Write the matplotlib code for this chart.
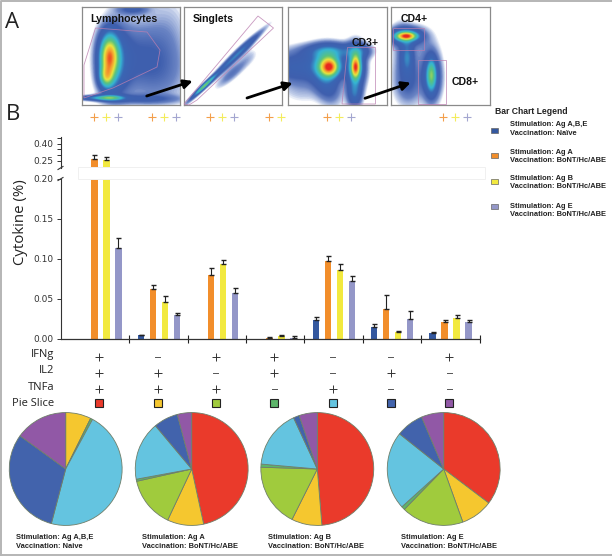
#!/usr/bin/env python3

import numpy as np
import matplotlib
matplotlib.use('Agg')
import matplotlib.pyplot as plt
from matplotlib.colors import LinearSegmentedColormap
from matplotlib.patches import Polygon, Rectangle

W, H = 612, 556

# bar chart values, one list per stimulation
naive_vals = [0.0, 0.004, 0.0, 0.0, 0.023, 0.0142, 0.0063]
naive_errs = [0.0, 0.001, 0.0, 0.0, 0.0034, 0.0034, 0.0021]
ag_a_vals = [0.265, 0.062, 0.0795, 0.001, 0.097, 0.0368, 0.0205]
ag_a_errs = [0.033, 0.005, 0.0085, 0.0005, 0.0063, 0.0172, 0.0029]
ag_b_vals = [0.256, 0.0456, 0.0933, 0.003, 0.0858, 0.0084, 0.026]
ag_b_errs = [0.029, 0.0071, 0.0047, 0.002, 0.0075, 0.0016, 0.0029]
ag_e_vals = [0.1138, 0.0293, 0.057, 0.001, 0.072, 0.0243, 0.0205]
ag_e_errs = [0.0122, 0.0033, 0.0058, 0.002, 0.0058, 0.0096, 0.0029]

ifng = ['+', '-', '+', '+', '-', '-', '+']
il2 = ['+', '+', '-', '+', '-', '+', '-']
tnfa = ['+', '+', '+', '-', '+', '-', '-']
row_names = ['IFNg', 'IL2', 'TNFa']

# which colored pluses sit over each group in the top strip
top_plus = [3, 3, 3, 2, 3, 0, 3]

# pie slices in percent: red, yellow, green, dark green, cyan, navy, purple
pie_naive = [0.0, 7.3, 0.0, 0.6, 46.2, 30.9, 15.0]
pie_ag_a = [46.6, 10.4, 14.5, 0.6, 16.8, 7.0, 4.1]
pie_ag_b = [48.7, 8.7, 18.1, 0.9, 16.7, 1.7, 5.2]
pie_ag_e = [35.3, 9.2, 17.8, 1.0, 22.4, 7.9, 6.4]
pie_caps = ['Ag A,B,E', 'Ag A', 'Ag B', 'Ag E']
pie_vacc = ['Naive', 'BoNT/Hc/ABE', 'BoNT/Hc/ABE', 'BoNT/Hc/ABE']

legend_stim = ['Ag A,B,E', 'Ag A', 'Ag B', 'Ag E']
legend_vacc = ['Naïve', 'BoNT/Hc/ABE', 'BoNT/Hc/ABE', 'BoNT/Hc/ABE']

# flow cytometry clouds, (x, y, sigma along, sigma across, angle, height) in panel pixels
lymph_blobs = [(27, 50, 6, 14, 0, 0.74), (24, 70, 4.5, 7, 0, 0.4), (28, 91, 9, 1.8, 0, 0.4),
               (12, 91, 12, 1.6, 0, 0.18), (32, 55, 10, 22, 0, 0.2), (58, 48, 20, 24, 0, 0.08),
               (86, 30, 14, 30, 0, 0.03), (50, 2, 10, 3.5, 0, 0.1), (60, 92, 24, 3, 0, 0.09),
               (78, 70, 20, 20, 0, 0.035)]
singlet_blobs = [(38, 62, 30, 1.7, -44, 0.14), (20, 79, 9, 1.2, -44, 0.45), (55, 45, 17, 2.4, -44, 0.14),
                 (48, 66, 13, 3.6, -42, 0.07), (64, 50, 8, 5, -45, 0.02)]
cd3_blobs = [(41, 60, 6, 6, 0, 0.68), (39, 57, 10, 10, 0, 0.32), (8, 60, 20, 10, 0, 0.14),
             (38, 76, 8, 13, -20, 0.14), (67, 60, 3, 7.5, 0, 0.68), (67, 60, 6, 13, 0, 0.32),
             (66, 86, 4.5, 9, 0, 0.2), (14, 82, 14, 10, 0, 0.03), (42, 44, 17, 5, 0, 0.2),
             (70, 44, 8, 5, 0, 0.12)]
cd4_blobs = [(15, 29, 6.5, 2.6, 0, 0.7), (15, 29, 10, 5.5, 0, 0.3), (16, 50, 4, 11, 0, 0.2),
             (17, 74, 9, 15, 0, 0.1), (40, 68, 3, 10, 0, 0.34), (40, 70, 6, 15, 0, 0.22),
             (30, 40, 11, 14, 0, 0.03), (10, 40, 6, 18, 0, 0.04)]
flow_blobs = [lymph_blobs, singlet_blobs, cd3_blobs, cd4_blobs]
flow_frames = [(81.7, 7.3), (183.7, 7.3), (288.3, 7.3), (391.3, 7.3)]
flow_labels = [('Lymphocytes', 90.5, 18.5), ('Singlets', 193, 18.5), ('CD3+', 352, 43.5), ('CD4+', 401, 18.5)]

gate_lymph = [(84, 65), (95.5, 28), (147, 32), (160, 50), (157, 67), (113, 88), (84, 98)]
gate_singlet = [(184, 104), (258, 16), (273.5, 28), (197, 100), (189, 105)]
gate_cd3 = [(342, 104), (347.5, 47.5), (375.5, 47.5), (375.5, 104)]
gate_cd4 = [(392.7, 27.7), (424.3, 27.7), (424.3, 50), (392.7, 50)]
gate_cd8 = [(418.3, 104.3), (418.3, 60), (445.7, 60), (445.7, 104.3)]

arrow_starts = [(146.7, 96), (247, 98), (365, 98.3)]
arrow_ends = [(192.7, 81), (292.7, 83), (410.7, 82.7)]

BAR_COLORS = ['#34589F', '#F28E2B', '#F2E93F', '#9497C8']
PIE_COLORS = ['#EA3A2B', '#F5C72F', '#A0CB3D', '#5DB56A', '#64C4E0', '#4263AC', '#9158A6']
PIE_EDGE = '#6f7f6a'
LABEL_FONT = 'Liberation Sans'
ROW_FONT = 'Open Sans'


def px_axes(fig, x0, y0, x1, y1, **kw):
    # axes placed by picture pixels, y going down
    return fig.add_axes([x0 / W, 1 - y1 / H, (x1 - x0) / W, (y1 - y0) / H], **kw)


def flow_image(blobs, size=98):
    yy, xx = np.mgrid[0:size:392j, 0:size:392j]
    img = np.zeros_like(xx)
    for cx, cy, sa, sb, ang, amp in blobs:
        t = np.radians(ang)
        u = (xx - cx) * np.cos(t) + (yy - cy) * np.sin(t)
        v = -(xx - cx) * np.sin(t) + (yy - cy) * np.cos(t)
        img += amp * np.exp(-0.5 * ((u / sa) ** 2 + (v / sb) ** 2))
    return img


def main():
    fig = plt.figure(figsize=(W / 100, H / 100), dpi=100)
    canvas = px_axes(fig, 0, 0, W, H)
    canvas.set_xlim(0, W)
    canvas.set_ylim(H, 0)
    canvas.axis('off')

    # thin gray border of the figure
    canvas.plot([1, 1, W], [H - 1.5, 1, 1], color='#b5b5b5', lw=1.4)
    canvas.plot([1, W], [H - 1.5, H - 1.5], color='#b5b5b5', lw=1.4)

    canvas.text(5, 22, 'A', fontsize=16, family=ROW_FONT, va='center', color='#222222')
    canvas.text(6, 114, 'B', fontsize=16, family=ROW_FONT, va='center', color='#222222')

    # panel A
    flow_cmap = LinearSegmentedColormap.from_list('flow', [
        (0.0, '#ffffff'), (0.012, '#ffffff'), (0.022, '#c3cfea'), (0.05, '#6a84c4'),
        (0.09, '#3f5fae'), (0.2, '#3a66b4'), (0.32, '#35b5d4'), (0.5, '#5cc37a'), (0.68, '#e9e63f'),
        (0.85, '#f59b2e'), (1.0, '#e8281f'),
    ])
    for (fx, fy), blobs in zip(flow_frames, flow_blobs):
        ax = px_axes(fig, fx, fy, fx + 98.5, fy + 98)
        ax.imshow(flow_image(blobs), cmap=flow_cmap, vmin=0, vmax=1, extent=(0, 98, 98, 0), aspect='auto')
        ax.set_xticks([])
        ax.set_yticks([])
        for spine in ax.spines.values():
            spine.set_color('#8a8a8a')
            spine.set_linewidth(0.9)
    overlay = px_axes(fig, 0, 0, W, H, zorder=5)
    overlay.set_xlim(0, W)
    overlay.set_ylim(H, 0)
    overlay.axis('off')
    for gate in [gate_lymph, gate_singlet, gate_cd3, gate_cd4, gate_cd8]:
        overlay.add_patch(Polygon(gate, closed=True, fill=False, edgecolor='#bb7fb0', lw=0.6, alpha=0.8))
    for start, end in zip(arrow_starts, arrow_ends):
        overlay.annotate('', xy=end, xytext=start,
                         arrowprops=dict(arrowstyle='-|>', color='black', lw=2.0, mutation_scale=13,
                                         shrinkA=0, shrinkB=0))
    for label, x, y in flow_labels:
        overlay.text(x, y, label, fontsize=7.6, family=LABEL_FONT, weight='bold', va='center', color='#111111')
    overlay.text(452, 81.7, 'CD8+', fontsize=7.6, family=LABEL_FONT, weight='bold', va='center', color='#111111')

    # bar chart, two stacked axes for the broken y axis
    x = np.arange(7)
    xmin, xmax = -10 / 58.3, 7
    offsets = [-0.309, -0.103, 0.103, 0.309]
    series = [(naive_vals, naive_errs), (ag_a_vals, ag_a_errs), (ag_b_vals, ag_b_errs), (ag_e_vals, ag_e_errs)]

    low = px_axes(fig, 61, 179, 479.5, 338.5)
    high = px_axes(fig, 61, 137, 479.5, 168)
    for ax in (low, high):
        for off, (vals, errs), color in zip(offsets, series, BAR_COLORS):
            vals = np.array(vals)
            errs = np.array(errs)
            ax.bar(x + 0.504 + off, vals, width=0.108, color=color, linewidth=0)
            keep = vals > 0  # no whisker where there is no bar
            ax.errorbar(x[keep] + 0.504 + off, vals[keep], yerr=[np.zeros(keep.sum()), errs[keep]],
                        fmt='none', ecolor='#222222', elinewidth=0.8, capsize=1.8, capthick=1.0)
        ax.set_xlim(xmin, xmax)
        ax.patch.set_alpha(0)
        ax.spines['top'].set_visible(False)
        ax.spines['right'].set_visible(False)
        ax.spines['left'].set_color('#333333')
        ax.spines['left'].set_linewidth(0.8)
        ax.tick_params(axis='y', labelsize=6.5, length=3, width=0.7, pad=2.5, colors='#333333')
    low.set_ylim(0, 0.2)
    low.set_yticks([0, 0.05, 0.10, 0.15, 0.20])
    low.set_yticklabels(['0.00', '0.05', '0.10', '0.15', '0.20'])
    low.set_xticks(np.arange(1, 8))
    low.set_xticklabels([])
    low.tick_params(axis='x', direction='inout', length=6, width=0.8, color='#222222')
    low.spines['bottom'].set_color('#333333')
    low.spines['bottom'].set_linewidth(0.9)

    high.set_ylim(0.1856, 0.459)
    high.set_yticks([0.25, 0.30, 0.35, 0.40, 0.45])
    high.set_yticklabels(['0.25', '', '', '0.40', ''])
    high.set_xticks([])
    high.spines['bottom'].set_visible(False)

    # white strip across the axis break
    overlay.add_patch(Rectangle((78, 166.7), 407, 11.8, facecolor='white', edgecolor='#f0f0f0', lw=0.7))
    overlay.plot([58, 63], [169.5, 166.5], color='#333333', lw=0.8)
    overlay.plot([58, 63], [180.5, 177.5], color='#333333', lw=0.8)
    overlay.text(21, 221.7, 'Cytokine (%)', rotation=90, fontsize=10.8, family=ROW_FONT,
                 va='center', ha='center', color='#222222')

    # colored pluses above the bars
    plus_colors = BAR_COLORS[1:]
    for i, n in enumerate(top_plus):
        for j in range(n):
            overlay.plot(93.7 + i * 58.3 + j * 12, 116.7, '+', color=plus_colors[j], ms=5.5, mew=0.8, alpha=0.85)

    # legend
    overlay.text(494.7, 112, 'Bar Chart Legend', fontsize=6.2, family=LABEL_FONT, weight='bold',
                 va='center', color='#222222')
    swatch_y = [130.7, 155.5, 181, 206.3]
    line_y = [(124.7, 133.3), (152, 160.7), (178.3, 187), (206, 214.7)]
    for color, sy, (y1, y2), stim, vacc in zip(BAR_COLORS, swatch_y, line_y, legend_stim, legend_vacc):
        overlay.add_patch(Rectangle((490.5, sy - 2.5), 7, 5, facecolor=color, edgecolor='#666666', lw=0.5))
        overlay.text(510, y1, 'Stimulation: ' + stim, fontsize=5.4, family=LABEL_FONT, weight='bold',
                     va='center', color='#222222')
        overlay.text(510, y2, 'Vaccination: ' + vacc, fontsize=5.4, family=LABEL_FONT, weight='bold',
                     va='center', color='#222222')

    # table of cytokine signs under the bars
    rows = [ifng, il2, tnfa]
    label_y = [355, 370.7, 387]
    sign_y = [357, 373, 389]
    for name, row, ly, sy in zip(row_names, rows, label_y, sign_y):
        overlay.text(54, ly, name, fontsize=8, family=ROW_FONT, ha='right', va='center', color='#222222')
        for i, sign in enumerate(row):
            cx = 99.3 + i * 58.33
            if sign == '+':
                overlay.plot(cx, sy, '+', color='#333333', ms=5.5, mew=0.7)
            else:
                overlay.plot([cx - 2.5, cx + 2.5], [sy - 0.5, sy - 0.5], color='#555555', lw=0.7)
    overlay.text(54, 403, 'Pie Slice', fontsize=8, family=ROW_FONT, ha='right', va='center', color='#222222')
    for i, color in enumerate(PIE_COLORS):
        cx = 99.3 + i * 58.33
        overlay.add_patch(Rectangle((cx - 4, 399), 8, 8, facecolor=color, edgecolor='#222222', lw=0.8))

    # pies
    pies = [pie_naive, pie_ag_a, pie_ag_b, pie_ag_e]
    pie_x = [65.7, 191.7, 317.3, 443.7]
    cap_x = [15.7, 142.3, 268.3, 401]
    for vals, cx, tx, stim, vacc in zip(pies, pie_x, cap_x, pie_caps, pie_vacc):
        r = 57
        ax = px_axes(fig, cx - r, 469 - r, cx + r, 469 + r)
        ax.pie(vals, colors=PIE_COLORS, startangle=90, counterclock=False, radius=1,
               wedgeprops=dict(edgecolor=PIE_EDGE, linewidth=0.6))
        ax.set_xlim(-1.01, 1.01)
        ax.set_ylim(-1.01, 1.01)
        overlay.text(tx, 537.3, 'Stimulation: ' + stim, fontsize=5.4, family=LABEL_FONT, weight='bold',
                     va='center', color='#222222')
        overlay.text(tx, 546, 'Vaccination: ' + vacc, fontsize=5.4, family=LABEL_FONT, weight='bold',
                     va='center', color='#222222')

    fig.savefig('out.png', dpi=100)


if __name__ == '__main__':
    main()
